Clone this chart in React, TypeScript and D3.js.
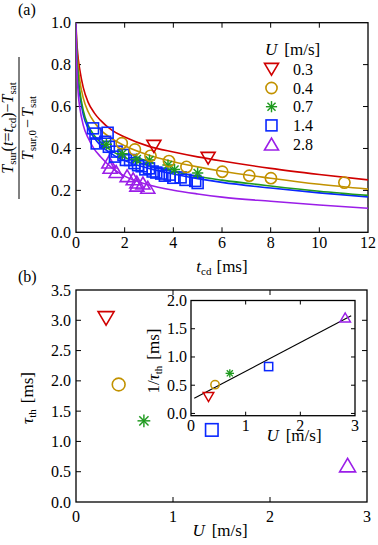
import React from 'react';
import * as d3 from 'd3';

// ---------- data ----------
const uLabels = ['0.3', '0.4', '0.7', '1.4', '2.8'];
const colors = ['#d00000', '#c29200', '#1f9a1f', '#0a28ff', '#9b1ee8'];
const markerTypes = ['tdown', 'circle', 'star', 'square', 'tup'];

// fitted curves (top panel)
const tFit = [0, 0.02, 0.05, 0.1, 0.15, 0.3, 0.5, 0.75, 1, 1.5, 2, 3, 4, 5, 6, 8, 10, 12];
const fitU03 = [1.0, 0.93, 0.88, 0.82, 0.78, 0.69, 0.62, 0.57, 0.535, 0.485, 0.455, 0.41, 0.383, 0.36, 0.34, 0.305, 0.276, 0.25];
const fitU04 = [1.0, 0.91, 0.85, 0.78, 0.73, 0.64, 0.575, 0.525, 0.49, 0.445, 0.413, 0.368, 0.337, 0.312, 0.291, 0.258, 0.229, 0.206];
const fitU07 = [1.0, 0.89, 0.81, 0.73, 0.68, 0.58, 0.51, 0.462, 0.43, 0.386, 0.357, 0.318, 0.29, 0.266, 0.249, 0.221, 0.196, 0.176];
const fitU14 = [1.0, 0.88, 0.79, 0.71, 0.66, 0.56, 0.495, 0.45, 0.416, 0.372, 0.342, 0.305, 0.278, 0.256, 0.238, 0.211, 0.188, 0.169];
const fitU28 = [1.0, 0.84, 0.74, 0.65, 0.6, 0.51, 0.45, 0.397, 0.362, 0.305, 0.268, 0.226, 0.201, 0.183, 0.168, 0.148, 0.13, 0.115];

// measured points (top panel)
const tU03 = [3.2, 5.43];
const vU03 = [0.41, 0.353];
const tU04 = [1.88, 2.42, 3.06, 3.82, 4.54, 6.01, 7.12, 8.01, 11.03];
const vU04 = [0.425, 0.395, 0.365, 0.34, 0.312, 0.289, 0.27, 0.258, 0.237];
const tU07 = [1.25, 1.9, 2.5, 3.02, 3.78, 4.05, 5.0];
const vU07 = [0.42, 0.375, 0.35, 0.345, 0.321, 0.3, 0.283];
const tU14 = [0.7, 0.8, 0.85, 1.2, 1.3, 1.35, 1.6, 1.67, 1.95, 2.05, 2.22, 2.4, 2.55, 2.7, 2.85, 3.0, 3.15, 3.3, 3.5, 3.65, 3.85, 4.0, 4.3, 4.5, 4.9, 5.0];
const vU14 = [0.496, 0.471, 0.424, 0.432, 0.475, 0.408, 0.361, 0.385, 0.369, 0.345, 0.345, 0.33, 0.32, 0.315, 0.3, 0.305, 0.29, 0.285, 0.28, 0.27, 0.275, 0.26, 0.262, 0.25, 0.245, 0.235];
const tU28 = [1.35, 1.4, 1.65, 2.1, 2.35, 2.5, 2.5, 2.75, 2.95];
const vU28 = [0.335, 0.31, 0.29, 0.27, 0.255, 0.24, 0.225, 0.235, 0.215];

// bottom panel
const uTau = [0.31, 0.44, 0.7, 1.4, 2.8];
const tauTh = [3.03, 1.94, 1.34, 1.19, 0.61];
// inset
const uInv = [0.32, 0.44, 0.71, 1.42, 2.82];
const invTau = [0.29, 0.51, 0.71, 0.83, 1.7];
const fitLineU = [0.06, 2.93];
const fitLineV = [0.27, 1.73];

// ticks
const topXTicks = [0, 2, 4, 6, 8, 10, 12];
const topYTicks = [0, 0.2, 0.4, 0.6, 0.8, 1.0];
const botXTicks = [0, 1, 2, 3];
const botYTicks = [0, 0.5, 1, 1.5, 2, 2.5, 3, 3.5];
const insXTicks = [0, 1, 2, 3];
const insYTicks = [0, 0.5, 1, 1.5, 2];

const FONT = "'Liberation Serif', 'Times New Roman', Times, serif";

function Marker({ type, x, y, s, color, sw = 1.6 }: any) {
  const w = s, h = s * 0.85;
  if (type === 'tdown') {
    return <polygon points={`${x - w / 2},${y - h / 2} ${x + w / 2},${y - h / 2} ${x},${y + h / 2}`} fill="none" stroke={color} strokeWidth={sw} />;
  }
  if (type === 'tup') {
    return <polygon points={`${x - w / 2},${y + h / 2} ${x + w / 2},${y + h / 2} ${x},${y - h / 2}`} fill="none" stroke={color} strokeWidth={sw} />;
  }
  if (type === 'circle') {
    return <circle cx={x} cy={y} r={s * 0.4} fill="none" stroke={color} strokeWidth={sw} />;
  }
  if (type === 'square') {
    const a = s * 0.78;
    return <rect x={x - a / 2} y={y - a / 2} width={a} height={a} fill="none" stroke={color} strokeWidth={sw} />;
  }
  const r = s * 0.4, d = r * 0.72;
  return (
    <g stroke={color} strokeWidth={sw * 0.9}>
      <line x1={x - r} y1={y} x2={x + r} y2={y} />
      <line x1={x} y1={y - r} x2={x} y2={y + r} />
      <line x1={x - d} y1={y - d} x2={x + d} y2={y + d} />
      <line x1={x - d} y1={y + d} x2={x + d} y2={y - d} />
    </g>
  );
}

function Frame({ xs, ys, xt, yt, tl, fmtX, fmtY, fs, labelXOff, labelYOff }: any) {
  const [x0, x1] = xs.range();
  const [y0, y1] = ys.range();
  return (
    <g>
      <rect x={x0} y={y1} width={x1 - x0} height={y0 - y1} fill="white" stroke="black" strokeWidth={1.3} />
      {xt.map((t: number, i: number) => {
        const x = xs(t);
        const inner = Math.abs(x - x0) > 1 && Math.abs(x - x1) > 1;
        return (
          <g key={'x' + i}>
            {inner && <line x1={x} x2={x} y1={y0} y2={y0 - tl} stroke="black" strokeWidth={1} />}
            {inner && <line x1={x} x2={x} y1={y1} y2={y1 + tl} stroke="black" strokeWidth={1} />}
            <text x={x} y={y0 + labelXOff} textAnchor="middle" fontSize={fs}>{fmtX(t)}</text>
          </g>
        );
      })}
      {yt.map((t: number, i: number) => {
        const y = ys(t);
        const inner = Math.abs(y - y0) > 1 && Math.abs(y - y1) > 1;
        return (
          <g key={'y' + i}>
            {inner && <line x1={x0} x2={x0 + tl} y1={y} y2={y} stroke="black" strokeWidth={1} />}
            {inner && <line x1={x1} x2={x1 - tl} y1={y} y2={y} stroke="black" strokeWidth={1} />}
            <text x={x0 - labelYOff} y={y + 5.5} textAnchor="end" fontSize={fs}>{fmtY(t)}</text>
          </g>
        );
      })}
    </g>
  );
}

export default function App() {
  const xT = d3.scaleLinear().domain([0, 12]).range([76, 368]);
  const yT = d3.scaleLinear().domain([0, 1]).range([232.3, 22.7]);
  const xB = d3.scaleLinear().domain([0, 3]).range([76, 367]);
  const yB = d3.scaleLinear().domain([0, 3.5]).range([502, 290]);
  const xI = d3.scaleLinear().domain([0, 3]).range([191, 355]);
  const yI = d3.scaleLinear().domain([-0.04, 2]).range([415.7, 300.5]);

  const fits = [fitU03, fitU04, fitU07, fitU14, fitU28];
  const tObs = [tU03, tU04, tU07, tU14, tU28];
  const vObs = [vU03, vU04, vU07, vU14, vU28];

  const line = d3.line<number>()
    .x((_, i) => xT(tFit[i]))
    .y((d) => yT(d))
    .curve(d3.curveMonotoneX);

  const f1 = d3.format('.1f');
  const f0 = d3.format('d');

  const drawOrder = [0, 1, 3, 2, 4];
  const obsOrder = [4, 3, 2, 1, 0];
  const sub = 11;

  return (
    <svg width={378} height={545} style={{ position: 'absolute', left: 0, top: 0, background: 'white', fontFamily: FONT }}>
      <defs>
        <clipPath id="clipTop"><rect x={76} y={22.7} width={292} height={209.6} /></clipPath>
      </defs>
      {/* ---------- top panel ---------- */}
      <text x={18} y={15} fontSize={16}>(a)</text>
      <Frame xs={xT} ys={yT} xt={topXTicks} yt={topYTicks} tl={5} fmtX={f0} fmtY={f1} fs={16} labelXOff={16} labelYOff={5} />
      <g clipPath="url(#clipTop)">
        {drawOrder.map((k) => (
          <path key={'fit' + k} d={line(fits[k]) || ''} fill="none" stroke={colors[k]} strokeWidth={1.6} />
        ))}
        {obsOrder.map((k) =>
          tObs[k].map((t, i) => (
            <Marker key={'o' + k + '-' + i} type={markerTypes[k]} x={xT(t)} y={yT(vObs[k][i])} s={14} color={colors[k]} />
          ))
        )}
      </g>
      {/* legend */}
      <text x={265} y={55} fontSize={17}>
        <tspan fontStyle="italic">U</tspan><tspan dx={7}>[m/s]</tspan>
      </text>
      {uLabels.map((lab, k) => {
        const y = 69.3 + k * 18.7;
        return (
          <g key={'leg' + k}>
            <Marker type={markerTypes[k]} x={271.5} y={y} s={14} color={colors[k]} />
            <text x={293} y={y + 5.5} fontSize={16}>{lab}</text>
          </g>
        );
      })}
      <text x={222} y={272} textAnchor="middle" fontSize={17}>
        <tspan fontStyle="italic">t</tspan><tspan fontSize={sub} dy={3}>cd</tspan><tspan dy={-3} dx={5}>[ms]</tspan>
      </text>
      <g transform="translate(19,128) rotate(-90)">
        <text x={0} y={-6} textAnchor="middle" fontSize={16}>
          <tspan fontStyle="italic">T</tspan><tspan fontSize={sub} dy={3}>sur</tspan><tspan dy={-3}>(</tspan><tspan fontStyle="italic">t</tspan><tspan>=</tspan><tspan fontStyle="italic">t</tspan><tspan fontSize={sub} dy={3}>cd</tspan><tspan dy={-3}>)−</tspan><tspan fontStyle="italic">T</tspan><tspan fontSize={sub} dy={3}>sat</tspan>
        </text>
        <line x1={-71} x2={71} y1={0} y2={0} stroke="black" strokeWidth={1} />
        <text x={0} y={13.5} textAnchor="middle" fontSize={16}>
          <tspan fontStyle="italic">T</tspan><tspan fontSize={sub} dy={3}>sur,0</tspan><tspan dy={-3} dx={2}>−</tspan><tspan dx={2} fontStyle="italic">T</tspan><tspan fontSize={sub} dy={3}>sat</tspan>
        </text>
      </g>

      {/* ---------- bottom panel ---------- */}
      <text x={18} y={282} fontSize={16}>(b)</text>
      <Frame xs={xB} ys={yB} xt={botXTicks} yt={botYTicks} tl={5} fmtX={f0} fmtY={f1} fs={16} labelXOff={20} labelYOff={5} />
      {uTau.map((u, k) => (
        <Marker key={'b' + k} type={markerTypes[k]} x={xB(u)} y={yB(tauTh[k])} s={16} color={colors[k]} />
      ))}
      <text x={220} y={536} textAnchor="middle" fontSize={17}>
        <tspan fontStyle="italic">U</tspan><tspan dx={7}>[m/s]</tspan>
      </text>
      <g transform="translate(33,398) rotate(-90)">
        <text x={0} y={0} textAnchor="middle" fontSize={17}>
          <tspan fontStyle="italic">τ</tspan><tspan fontSize={sub} dy={3}>th</tspan><tspan dy={-3} dx={6}>[ms]</tspan>
        </text>
      </g>

      {/* ---------- inset ---------- */}
      <Frame xs={xI} ys={yI} xt={insXTicks} yt={insYTicks} tl={4} fmtX={f0} fmtY={f1} fs={16} labelXOff={15} labelYOff={4} />
      <line x1={xI(fitLineU[0])} y1={yI(fitLineV[0])} x2={xI(fitLineU[1])} y2={yI(fitLineV[1])} stroke="black" strokeWidth={1.1} />
      {uInv.map((u, k) => (
        <Marker key={'i' + k} type={markerTypes[k]} x={xI(u)} y={yI(invTau[k])} s={10.5} color={colors[k]} sw={1.5} />
      ))}
      <text x={294} y={441} textAnchor="middle" fontSize={17}>
        <tspan fontStyle="italic">U</tspan><tspan dx={7}>[m/s]</tspan>
      </text>
      <g transform="translate(159,361) rotate(-90)">
        <text x={0} y={0} textAnchor="middle" fontSize={17}>
          <tspan>1/</tspan><tspan fontStyle="italic">τ</tspan><tspan fontSize={sub} dy={3}>th</tspan><tspan dy={-3} dx={6}>[ms]</tspan>
        </text>
      </g>
    </svg>
  );
}
